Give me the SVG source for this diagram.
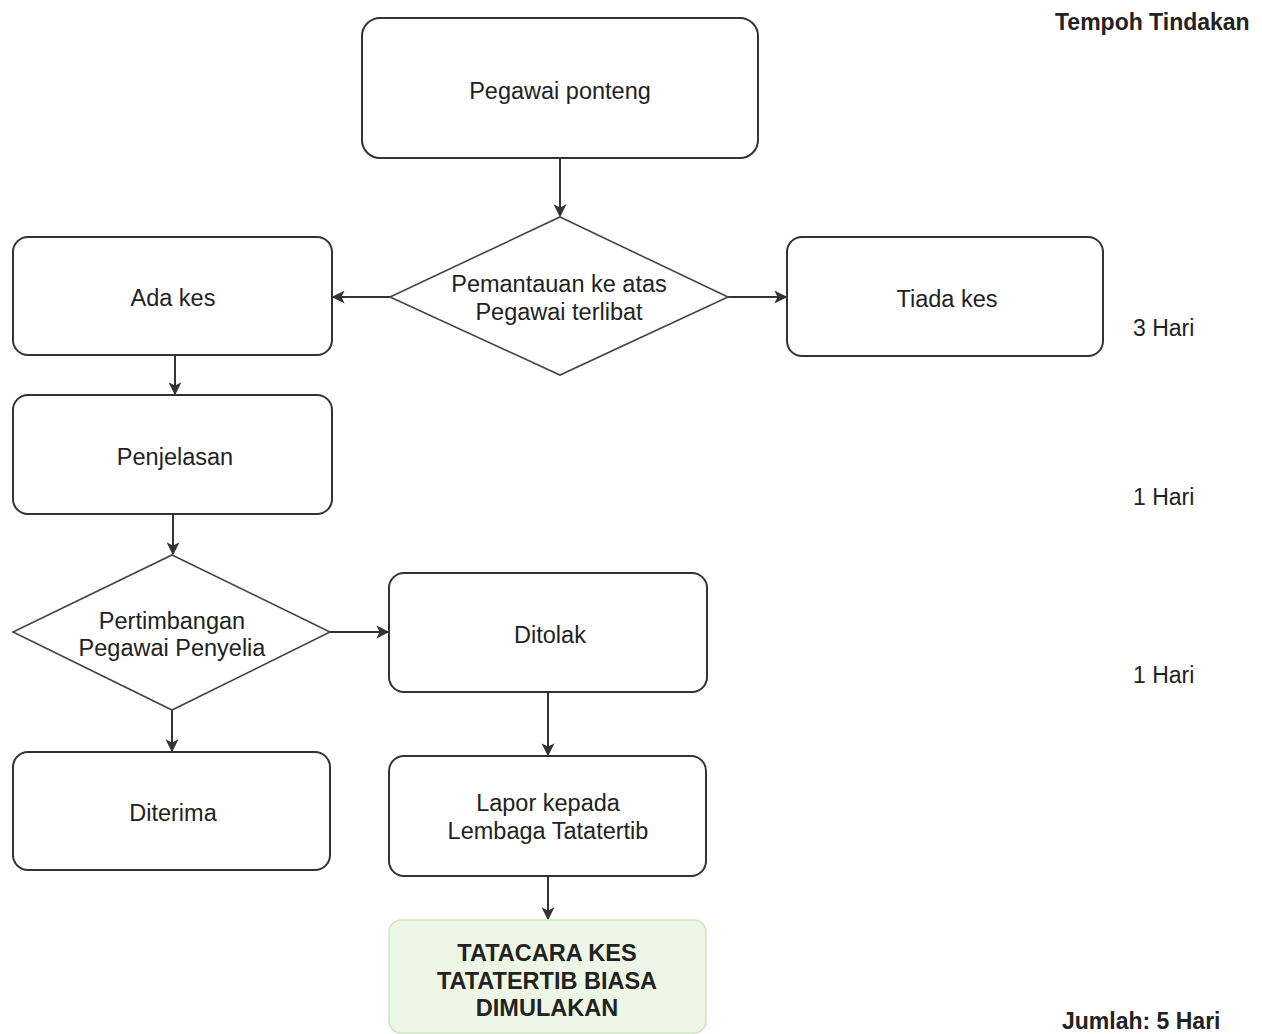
<svg xmlns="http://www.w3.org/2000/svg" width="1262" height="1034" viewBox="0 0 1262 1034">
<style>
.box{fill:#fff;stroke:#333;stroke-width:2}
.dia{fill:#fff;stroke:#444;stroke-width:1.6}
.t{font-family:"Liberation Sans",Arial,sans-serif;font-size:23.5px;fill:#222;text-anchor:middle}
.b{font-family:"Liberation Sans",Arial,sans-serif;font-size:23.5px;font-weight:bold;fill:#222;text-anchor:middle}
.r{font-family:"Liberation Sans",Arial,sans-serif;font-size:23px;fill:#222}
.rb{font-family:"Liberation Sans",Arial,sans-serif;font-size:23px;font-weight:bold;fill:#222}
.c{stroke:#333;stroke-width:2;fill:none;marker-end:url(#ah)}
</style>
<defs>
<marker id="ah" viewBox="0 0 10 10" refX="9" refY="5" markerWidth="13" markerHeight="13" markerUnits="userSpaceOnUse" orient="auto"><path d="M0,0 L10,5 L0,10 L2.5,5 Z" fill="#333"/></marker>
</defs>
<rect width="1262" height="1034" fill="#fff"/>
<g id="connectors">
<line class="c" x1="560" y1="158" x2="560" y2="216"/>
<line class="c" x1="390" y1="297" x2="333" y2="297"/>
<line class="c" x1="728" y1="297" x2="786" y2="297"/>
<line class="c" x1="175" y1="355" x2="175" y2="394"/>
<line class="c" x1="173" y1="514" x2="173" y2="554"/>
<line class="c" x1="330" y1="632" x2="388" y2="632"/>
<line class="c" x1="172" y1="710" x2="172" y2="751"/>
<line class="c" x1="548" y1="692" x2="548" y2="755"/>
<line class="c" x1="548" y1="876" x2="548" y2="919"/>
</g>
<g id="n1"><rect class="box" x="362" y="18" width="396" height="140" rx="18"/><text class="t" x="560" y="99">Pegawai ponteng</text></g>
<g id="d1"><polygon class="dia" points="560,217 728,297 560,375 390,297"/><text class="t" x="559" y="292">Pemantauan ke atas</text><text class="t" x="559" y="320">Pegawai terlibat</text></g>
<g id="n2"><rect class="box" x="13" y="237" width="319" height="118" rx="15"/><text class="t" x="173" y="306">Ada kes</text></g>
<g id="n3"><rect class="box" x="787" y="237" width="316" height="119" rx="15"/><text class="t" x="947" y="307">Tiada kes</text></g>
<g id="n4"><rect class="box" x="13" y="395" width="319" height="119" rx="15"/><text class="t" x="175" y="465">Penjelasan</text></g>
<g id="d2"><polygon class="dia" points="172,555 330,632 172,710 13,632"/><text class="t" x="172" y="629">Pertimbangan</text><text class="t" x="172" y="656">Pegawai Penyelia</text></g>
<g id="n5"><rect class="box" x="389" y="573" width="318" height="119" rx="15"/><text class="t" x="550" y="643">Ditolak</text></g>
<g id="n6"><rect class="box" x="13" y="752" width="317" height="118" rx="15"/><text class="t" x="173" y="821">Diterima</text></g>
<g id="n7"><rect class="box" x="389" y="756" width="317" height="120" rx="15"/><text class="t" x="548" y="811">Lapor kepada</text><text class="t" x="548" y="839">Lembaga Tatatertib</text></g>
<g id="n8"><rect x="389" y="920" width="317" height="113" rx="12" fill="#eef6e6" stroke="#cfe3c4" stroke-width="1.5"/><text class="b" x="547" y="961">TATACARA KES</text><text class="b" x="547" y="989">TATATERTIB BIASA</text><text class="b" x="547" y="1016">DIMULAKAN</text></g>
<g id="labels">
<text class="rb" x="1055" y="30">Tempoh Tindakan</text>
<text class="r" x="1133" y="336">3 Hari</text>
<text class="r" x="1133" y="505">1 Hari</text>
<text class="r" x="1133" y="683">1 Hari</text>
<text class="rb" x="1062" y="1029">Jumlah: 5 Hari</text>
</g>
</svg>
